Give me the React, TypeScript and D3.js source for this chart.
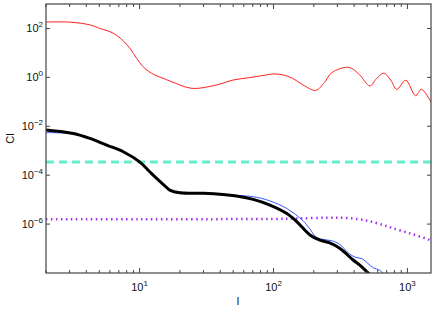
import React, { useEffect } from "react";
import * as d3 from "d3";

// multipole values and spectra
const redL = [2, 3, 4.3, 5.05, 6, 6.74, 7.6, 8.5, 9.5, 10.5, 11.6, 13, 15, 17.4, 24.6, 37.6, 50, 66.5, 88.7, 100, 117.6, 139, 166, 207, 240, 272, 365, 440, 524, 590, 665, 750, 832, 973, 1150, 1274, 1500];
const redCl = [182, 182, 138, 100, 74, 52, 30, 15, 6, 2.9, 1.8, 1.25, 0.91, 0.66, 0.355, 0.49, 0.78, 0.98, 1.26, 1.38, 1.26, 0.91, 0.49, 0.295, 0.62, 1.55, 2.57, 1.26, 0.447, 0.91, 1.48, 0.78, 0.324, 0.76, 0.178, 0.324, 0.095];

const blackL = [2, 3.2, 4.26, 5.68, 7.55, 10, 11.9, 13.4, 15.5, 16.8, 20, 30, 53, 70.5, 94, 125, 149, 187, 222, 263, 312, 393, 441, 510, 560];
const blackCl = [7.1e-3, 5.1e-3, 3.2e-3, 1.7e-3, 9.1e-4, 3.5e-4, 1.38e-4, 7.4e-5, 3.6e-5, 2.45e-5, 1.9e-5, 1.82e-5, 1.41e-5, 1.02e-5, 6.0e-6, 2.75e-6, 1.26e-6, 3.6e-7, 2.2e-7, 1.7e-7, 1.02e-7, 3.4e-8, 2.1e-8, 1.0e-8, 6.3e-9];

const blueL = [2, 3.2, 4.26, 5.68, 7.55, 10, 11.9, 13.4, 15.5, 16.8, 20, 30, 53, 70.5, 94, 125, 166, 187, 207, 230, 270, 312, 365, 410, 460, 505, 560, 620, 700];
const blueCl = [5.5e-3, 4.9e-3, 3.2e-3, 1.7e-3, 9.1e-4, 3.5e-4, 1.38e-4, 7.4e-5, 3.6e-5, 2.45e-5, 1.9e-5, 1.82e-5, 1.48e-5, 1.32e-5, 8.9e-6, 4.4e-6, 1.38e-6, 6.3e-7, 3.0e-7, 2.4e-7, 2.1e-7, 1.5e-7, 6.3e-8, 4.4e-8, 3.8e-8, 2.5e-8, 1.6e-8, 1.3e-8, 7e-9];

const purpleL = [2, 10, 50, 100, 150, 250, 350, 500, 660, 780, 1040, 1390, 1500];
const purpleCl = [1.58e-6, 1.58e-6, 1.6e-6, 1.62e-6, 1.7e-6, 1.82e-6, 1.78e-6, 1.38e-6, 9.1e-7, 6.8e-7, 4.2e-7, 2.5e-7, 2.1e-7];

const cyanL = [2, 1500];
const cyanCl = [3.5e-4, 3.5e-4];

const xTickValues = [10, 100, 1000];
const xTickLabels = ["1", "2", "3"];
const yTickValues = [1e2, 1, 1e-2, 1e-4, 1e-6];
const yTickLabels = ["2", "0", "\u22122", "\u22124", "\u22126"];

const W = 436;
const H = 311;
const margin = { top: 4, right: 5, bottom: 38, left: 46 };
const font = "'Liberation Sans', Arial, sans-serif";
const axisColor = "#444";

export default function App() {
  useEffect(() => {
    document.body.style.margin = "0";
  }, []);

  const x = d3.scaleLog().domain([2, 1500]).range([margin.left, W - margin.right]);
  const y = d3.scaleLog().domain([1e-8, 1e3]).range([H - margin.bottom, margin.top]);
  const x0 = margin.left;
  const x1 = W - margin.right;
  const y0 = H - margin.bottom;
  const y1 = margin.top;

  const line = d3
    .line<[number, number]>()
    .x((d) => x(d[0]))
    .y((d) => y(d[1]))
    .curve(d3.curveCatmullRom.alpha(0.5));

  const pts = (ls: number[], cs: number[]) => ls.map((l, i) => [l, cs[i]] as [number, number]);

  // minor ticks 2..9 per decade
  const minor: number[] = [];
  [1, 10, 100, 1000].forEach((dec) => {
    for (let k = 2; k <= 9; k++) {
      const v = dec * k;
      if (v >= 2 && v <= 1500) minor.push(v);
    }
  });

  return (
    <svg width={W} height={H} style={{ display: "block" }} fontFamily={font}>
      <defs>
        <clipPath id="plot">
          <rect x={x0} y={y1} width={x1 - x0} height={y0 - y1} />
        </clipPath>
      </defs>
      <rect x={0} y={0} width={W} height={H} fill="white" />

      <g clipPath="url(#plot)" fill="none">
        <path d={line(pts(purpleL, purpleCl)) || ""} stroke="#a030f0" strokeWidth={2.5} strokeDasharray="1.5 3.5" />
        <path d={line(pts(cyanL, cyanCl)) || ""} stroke="#66eecc" strokeWidth={3} strokeDasharray="8 5" />
        <path d={line(pts(redL, redCl)) || ""} stroke="#ff2020" strokeWidth={1} />
        <path d={line(pts(blueL, blueCl)) || ""} stroke="#3355ff" strokeWidth={1} />
        <path d={line(pts(blackL, blackCl)) || ""} stroke="#000" strokeWidth={3} />
      </g>

      {/* ticks, inward on all four sides */}
      <g stroke={axisColor} strokeWidth={1}>
        {minor.map((v) => (
          <g key={"m" + v}>
            <line x1={x(v)} x2={x(v)} y1={y0} y2={y0 - 3} />
            <line x1={x(v)} x2={x(v)} y1={y1} y2={y1 + 3} />
          </g>
        ))}
        {xTickValues.map((v) => (
          <g key={"x" + v}>
            <line x1={x(v)} x2={x(v)} y1={y0} y2={y0 - 5} />
            <line x1={x(v)} x2={x(v)} y1={y1} y2={y1 + 5} />
          </g>
        ))}
        {yTickValues.map((v) => (
          <g key={"y" + v}>
            <line x1={x0} x2={x0 + 4} y1={y(v)} y2={y(v)} />
            <line x1={x1} x2={x1 - 4} y1={y(v)} y2={y(v)} />
          </g>
        ))}
      </g>
      <rect x={x0} y={y1} width={x1 - x0} height={y0 - y1} fill="none" stroke={axisColor} strokeWidth={1.2} />

      {/* tick labels */}
      <g fill="#111" fontSize={11}>
        {xTickValues.map((v, i) => (
          <text key={"xl" + v} x={x(v)} y={291} textAnchor="middle">
            10
            <tspan fontSize={8} dy={-5}>
              {xTickLabels[i]}
            </tspan>
          </text>
        ))}
        {yTickValues.map((v, i) => (
          <text key={"yl" + v} x={43} y={y(v) + 4} textAnchor="end">
            10
            <tspan fontSize={8} dy={-5}>
              {yTickLabels[i]}
            </tspan>
          </text>
        ))}
        <text x={238} y={305} textAnchor="middle">
          l
        </text>
        <text transform={`translate(14, ${(y0 + y1) / 2}) rotate(-90)`} textAnchor="middle">
          Cl
        </text>
      </g>
    </svg>
  );
}
